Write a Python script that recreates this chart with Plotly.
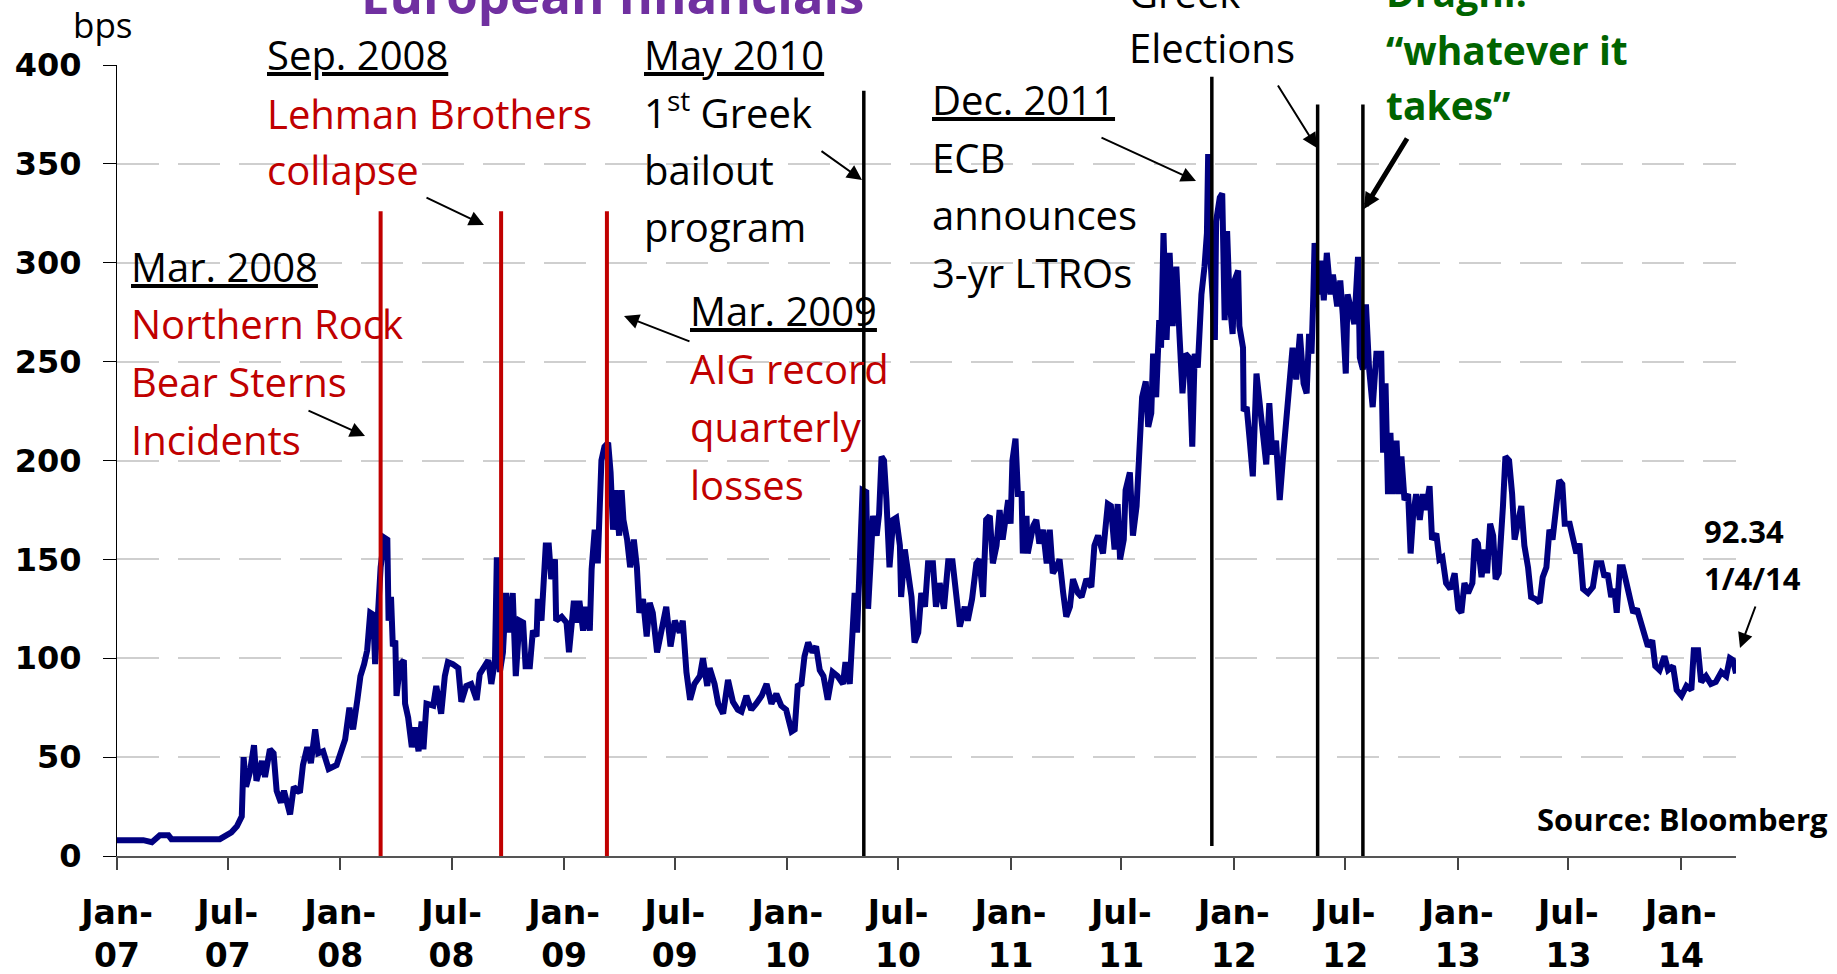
import plotly.graph_objects as go

# ---------------- data ----------------
dates = [
    "2007-01-01", "2007-02-13", "2007-02-27", "2007-03-12", "2007-03-26", "2007-03-31", "2007-06-18", "2007-06-27",
    "2007-07-07", "2007-07-16", "2007-07-24", "2007-07-27", "2007-07-31", "2007-08-06", "2007-08-13", "2007-08-17",
    "2007-08-26", "2007-08-31", "2007-09-08", "2007-09-14", "2007-09-19", "2007-09-26", "2007-10-01", "2007-10-11",
    "2007-10-17", "2007-10-27", "2007-11-01", "2007-11-08", "2007-11-14", "2007-11-21", "2007-11-26", "2007-12-04",
    "2007-12-13", "2007-12-26", "2008-01-03", "2008-01-09", "2008-01-16", "2008-01-22", "2008-01-29", "2008-02-03",
    "2008-02-09", "2008-02-14", "2008-02-19", "2008-02-24", "2008-02-27", "2008-03-02", "2008-03-07", "2008-03-13",
    "2008-03-18", "2008-03-20", "2008-03-24", "2008-03-27", "2008-03-31", "2008-04-02", "2008-04-08", "2008-04-14",
    "2008-04-16", "2008-04-21", "2008-04-27", "2008-05-02", "2008-05-08", "2008-05-13", "2008-05-16", "2008-05-21",
    "2008-06-01", "2008-06-06", "2008-06-14", "2008-06-20", "2008-06-25", "2008-07-03", "2008-07-12", "2008-07-17",
    "2008-07-25", "2008-08-02", "2008-08-11", "2008-08-16", "2008-08-24", "2008-08-30", "2008-09-04", "2008-09-10",
    "2008-09-13", "2008-09-18", "2008-09-23", "2008-09-28", "2008-10-04", "2008-10-09", "2008-10-14", "2008-10-20",
    "2008-10-26", "2008-10-30", "2008-11-06", "2008-11-11", "2008-11-17", "2008-11-19", "2008-11-25", "2008-12-02",
    "2008-12-07", "2008-12-11", "2008-12-17", "2008-12-19", "2008-12-28", "2009-01-05", "2009-01-09", "2009-01-13",
    "2009-01-17", "2009-01-21", "2009-01-26", "2009-02-01", "2009-02-06", "2009-02-12", "2009-02-15", "2009-02-20",
    "2009-02-25", "2009-03-03", "2009-03-08", "2009-03-14", "2009-03-18", "2009-03-22", "2009-03-26", "2009-04-01",
    "2009-04-05", "2009-04-08", "2009-04-14", "2009-04-19", "2009-04-25", "2009-04-30", "2009-05-04", "2009-05-10",
    "2009-05-16", "2009-05-21", "2009-05-26", "2009-06-02", "2009-06-09", "2009-06-17", "2009-06-24", "2009-07-01",
    "2009-07-09", "2009-07-14", "2009-07-20", "2009-07-26", "2009-08-02", "2009-08-11", "2009-08-16", "2009-08-23",
    "2009-08-27", "2009-09-04", "2009-09-10", "2009-09-18", "2009-09-26", "2009-10-04", "2009-10-12", "2009-10-18",
    "2009-10-26", "2009-11-03", "2009-11-11", "2009-11-20", "2009-11-28", "2009-12-06", "2009-12-14", "2009-12-22",
    "2009-12-30", "2010-01-08", "2010-01-13", "2010-01-18", "2010-01-24", "2010-01-29", "2010-02-04", "2010-02-11",
    "2010-02-17", "2010-02-23", "2010-03-01", "2010-03-08", "2010-03-16", "2010-03-24", "2010-04-02", "2010-04-06",
    "2010-04-13", "2010-04-17", "2010-04-21", "2010-04-25", "2010-04-29", "2010-05-04", "2010-05-10", "2010-05-13",
    "2010-05-17", "2010-05-21", "2010-05-27", "2010-05-31", "2010-06-04", "2010-06-08", "2010-06-12", "2010-06-17",
    "2010-06-23", "2010-06-28", "2010-07-04", "2010-07-06", "2010-07-12", "2010-07-17", "2010-07-23", "2010-07-28",
    "2010-08-03", "2010-08-08", "2010-08-14", "2010-08-19", "2010-08-27", "2010-09-01", "2010-09-07", "2010-09-14",
    "2010-09-21", "2010-09-28", "2010-10-04", "2010-10-10", "2010-10-18", "2010-10-23", "2010-10-30", "2010-11-06",
    "2010-11-11", "2010-11-17", "2010-11-22", "2010-11-28", "2010-12-03", "2010-12-09", "2010-12-14", "2010-12-19",
    "2010-12-28", "2011-01-01", "2011-01-04", "2011-01-09", "2011-01-13", "2011-01-19", "2011-01-21", "2011-01-27",
    "2011-01-29", "2011-02-07", "2011-02-12", "2011-02-17", "2011-02-23", "2011-03-01", "2011-03-06", "2011-03-11",
    "2011-03-17", "2011-03-22", "2011-03-28", "2011-04-02", "2011-04-08", "2011-04-13", "2011-04-21", "2011-04-27",
    "2011-05-05", "2011-05-13", "2011-05-18", "2011-05-24", "2011-06-01", "2011-06-05", "2011-06-09", "2011-06-14",
    "2011-06-20", "2011-06-25", "2011-06-29", "2011-07-05", "2011-07-08", "2011-07-15", "2011-07-20", "2011-07-26",
    "2011-07-30", "2011-08-04", "2011-08-10", "2011-08-14", "2011-08-19", "2011-08-22", "2011-08-27", "2011-09-01",
    "2011-09-04", "2011-09-08", "2011-09-13", "2011-09-18", "2011-09-23", "2011-09-29", "2011-10-04", "2011-10-09",
    "2011-10-14", "2011-10-20", "2011-10-25", "2011-10-29", "2011-11-03", "2011-11-09", "2011-11-14", "2011-11-18",
    "2011-11-20", "2011-11-24", "2011-12-01", "2011-12-03", "2011-12-09", "2011-12-13", "2011-12-17", "2011-12-21",
    "2011-12-25", "2011-12-30", "2012-01-02", "2012-01-08", "2012-01-10", "2012-01-16", "2012-01-17", "2012-01-22",
    "2012-01-27", "2012-02-01", "2012-02-07", "2012-02-12", "2012-02-17", "2012-02-23", "2012-02-28", "2012-03-04",
    "2012-03-10", "2012-03-16", "2012-03-21", "2012-03-27", "2012-04-01", "2012-04-06", "2012-04-12", "2012-04-18",
    "2012-04-24", "2012-04-29", "2012-05-03", "2012-05-07", "2012-05-10", "2012-05-12", "2012-05-18", "2012-05-23",
    "2012-05-27", "2012-06-01", "2012-06-07", "2012-06-11", "2012-06-18", "2012-06-23", "2012-06-27", "2012-07-02",
    "2012-07-05", "2012-07-11", "2012-07-16", "2012-07-22", "2012-07-25", "2012-07-30", "2012-08-04", "2012-08-09",
    "2012-08-15", "2012-08-21", "2012-08-29", "2012-09-01", "2012-09-05", "2012-09-09", "2012-09-13", "2012-09-17",
    "2012-09-23", "2012-09-27", "2012-10-01", "2012-10-06", "2012-10-12", "2012-10-16", "2012-10-20", "2012-10-25",
    "2012-10-31", "2012-11-05", "2012-11-10", "2012-11-16", "2012-11-20", "2012-11-27", "2012-12-02", "2012-12-07",
    "2012-12-13", "2012-12-20", "2012-12-27", "2013-01-02", "2013-01-07", "2013-01-12", "2013-01-18", "2013-01-25",
    "2013-01-29", "2013-02-03", "2013-02-09", "2013-02-14", "2013-02-18", "2013-02-23", "2013-02-28", "2013-03-04",
    "2013-03-09", "2013-03-16", "2013-03-20", "2013-03-26", "2013-03-31", "2013-04-04", "2013-04-09", "2013-04-15",
    "2013-04-20", "2013-04-26", "2013-05-01", "2013-05-08", "2013-05-15", "2013-05-20", "2013-05-26", "2013-05-31",
    "2013-06-05", "2013-06-11", "2013-06-16", "2013-06-21", "2013-06-25", "2013-07-03", "2013-07-08", "2013-07-14",
    "2013-07-19", "2013-07-25", "2013-08-02", "2013-08-10", "2013-08-16", "2013-08-24", "2013-08-29", "2013-09-03",
    "2013-09-09", "2013-09-14", "2013-09-18", "2013-09-23", "2013-09-28", "2013-10-04", "2013-10-09", "2013-10-15",
    "2013-10-21", "2013-10-28", "2013-11-03", "2013-11-08", "2013-11-15", "2013-11-20", "2013-11-27", "2013-12-05",
    "2013-12-11", "2013-12-19", "2013-12-25", "2014-01-02", "2014-01-10", "2014-01-18", "2014-01-22", "2014-01-29",
    "2014-02-03", "2014-02-11", "2014-02-19", "2014-02-27", "2014-03-08", "2014-03-16", "2014-03-22", "2014-03-27",
    "2014-04-01",
]

spread_bps = [
    8, 8, 7, 10.5, 10.5, 8.5, 8.5, 10.5,
    12, 15, 20, 50, 35, 42, 56, 38,
    48, 40, 54, 52, 33, 27, 33, 21,
    35, 32, 46, 55, 47, 64, 52, 53,
    44, 46, 53, 59, 75, 64, 79, 91,
    97, 104, 123, 122, 97, 124, 146, 161,
    160, 119, 131, 106, 109, 81, 97, 99,
    77, 70, 55, 65, 53, 68, 54, 77,
    76, 86, 72, 91, 98, 97, 95, 78,
    86, 87, 79, 92, 96, 99, 87, 99,
    151, 93, 103, 133, 113, 133, 91, 119,
    118, 96, 96, 114, 111, 130, 119, 157,
    157, 140, 150, 119, 121, 118, 103, 113,
    129, 118, 129, 114, 126, 114, 145, 165,
    148, 200, 207, 209, 194, 165, 185, 162,
    185, 170, 160, 146, 160, 146, 123, 130,
    111, 128, 123, 103, 113, 126, 106, 119,
    113, 119, 93, 79, 87, 91, 100, 86,
    95, 87, 77, 72, 89, 78, 74, 73,
    81, 74, 77, 81, 87, 77, 82, 76,
    74, 63, 64, 86, 87, 101, 108, 103,
    106, 94, 91, 79, 93, 91, 87, 98,
    87, 111, 133, 113, 140, 185, 184, 125,
    148, 172, 162, 173, 202, 200, 180, 146,
    170, 171, 157, 131, 155, 143, 131, 108,
    113, 133, 126, 148, 148, 126, 138, 125,
    149, 149, 133, 116, 126, 119, 130, 148,
    150, 131, 170, 172, 148, 157, 175, 160,
    180, 168, 200, 211, 183, 183, 153, 172,
    153, 167, 170, 158, 165, 148, 165, 143,
    146, 150, 133, 121, 126, 140, 133, 131,
    140, 136, 157, 162, 153, 165, 178, 177,
    155, 178, 150, 160, 185, 194, 162, 177,
    210, 232, 240, 217, 224, 254, 232, 271,
    257, 315, 261, 305, 268, 298, 264, 234,
    254, 252, 207, 254, 247, 284, 298, 315,
    355, 301, 261, 321, 333, 335, 271, 316,
    281, 264, 291, 296, 268, 257, 225, 227,
    210, 192, 244, 230, 212, 198, 229, 203,
    210, 180, 200, 220, 236, 257, 241, 264,
    239, 234, 264, 254, 284, 310, 284, 301,
    281, 305, 284, 294, 278, 291, 274, 244,
    284, 274, 269, 303, 252, 246, 279, 247,
    227, 254, 254, 204, 239, 183, 214, 183,
    210, 183, 202, 180, 183, 153, 172, 183,
    170, 183, 175, 187, 160, 163, 150, 151,
    138, 135, 143, 125, 123, 138, 133, 138,
    160, 158, 141, 155, 143, 168, 162, 140,
    143, 177, 202, 200, 183, 160, 168, 177,
    157, 146, 131, 130, 128, 141, 146, 165,
    160, 180, 190, 188, 168, 168, 160, 153,
    158, 135, 133, 136, 148, 148, 141, 143,
    131, 135, 123, 146, 146, 138, 128, 123,
    125, 118, 111, 106, 109, 96, 94, 101,
    94, 96, 84, 81, 86, 84, 104, 104,
    88, 91, 87, 88, 93, 91, 100, 99,
    92.34,
]

tick_dates = ["2007-01-01", "2007-07-01", "2008-01-01", "2008-07-01", "2009-01-01",
              "2009-07-01", "2010-01-01", "2010-07-01", "2011-01-01", "2011-07-01",
              "2012-01-01", "2012-07-01", "2013-01-01", "2013-07-01", "2014-01-01"]
tick_text = ["Jan-<br>07", "Jul-<br>07", "Jan-<br>08", "Jul-<br>08", "Jan-<br>09",
             "Jul-<br>09", "Jan-<br>10", "Jul-<br>10", "Jan-<br>11", "Jul-<br>11",
             "Jan-<br>12", "Jul-<br>12", "Jan-<br>13", "Jul-<br>13", "Jan-<br>14"]
y_ticks = [0, 50, 100, 150, 200, 250, 300, 350, 400]

red_event_dates = ["2008-03-07", "2008-09-20", "2009-03-12"]
red_event_top = [326, 326, 326]
black_event_dates = ["2010-05-06", "2011-11-26", "2012-05-17", "2012-07-30"]
black_event_bottom = [0, 5, 0, 0]
black_event_top = [387, 394, 380, 380]

last_value_label = "92.34"
last_date_label = "1/4/14"

# ---------------- styling / layout helpers ----------------
W, H = 1837, 974
PL, PR, PT, PB = 117, 1736, 65, 856   # plot-area box in page pixels


def fx(px):
    return (px - PL) / (PR - PL)


def fy(py):
    return (PB - py) / (PB - PT)


NAVY = "#000080"
RED = "#C00000"
BLACK = "#000000"
GREEN = "#006400"
PURPLE = "#7030A0"
TXT_FONT = "Open Sans"

fig = go.Figure()
fig.add_trace(go.Scatter(x=dates, y=spread_bps, mode="lines",
                         line=dict(color=NAVY, width=6), hoverinfo="x+y"))

shapes = []
for d, top in zip(red_event_dates, red_event_top):
    shapes.append(dict(type="line", xref="x", yref="y", x0=d, x1=d, y0=0, y1=top,
                       line=dict(color=RED, width=4)))
for d, lo, top in zip(black_event_dates, black_event_bottom, black_event_top):
    shapes.append(dict(type="line", xref="x", yref="y", x0=d, x1=d, y0=lo, y1=top,
                       line=dict(color=BLACK, width=3.5)))

annotations = []


def add_text(px, py, text, color=BLACK, size=40, bold=False, xanchor="left", family=TXT_FONT):
    annotations.append(dict(
        xref="paper", yref="paper", x=fx(px), y=fy(py), text=text, showarrow=False,
        xanchor=xanchor, yanchor="middle", align="left",
        font=dict(family=family, size=size, color=color, weight="bold" if bold else "normal")))


blocks = [
    (265, [(55, "<u>Sep. 2008</u>", BLACK), (114, "Lehman Brothers", RED), (169, "collapse", RED)]),
    (642, [(55, "<u>May 2010</u>", BLACK), (111, "1<sup>st</sup> Greek", BLACK),
           (169, "bailout", BLACK), (226, "program", BLACK)]),
    (129, [(266, "<u>Mar. 2008</u>", BLACK), (323, "Northern Rock", RED),
           (381, "Bear Sterns", RED), (439, "Incidents", RED)]),
    (688, [(310, "<u>Mar. 2009</u>", BLACK), (369, "AIG record", RED),
           (426, "quarterly", RED), (484, "losses", RED)]),
    (930, [(100, "<u>Dec. 2011</u>", BLACK), (157, "ECB", BLACK),
           (214, "announces", BLACK), (272, "3-yr LTROs", BLACK)]),
    (1127, [(-8, "Greek", BLACK), (48, "Elections", BLACK)]),
]
for left, lines in blocks:
    for py, txt, col in lines:
        add_text(left, py, txt, col)

for py, txt in [(-9, "Draghi:"), (49, "\u201cwhatever it"), (105, "takes\u201d")]:
    add_text(1384, py, txt, GREEN, size=39, bold=True)

add_text(612, -6, "European financials", PURPLE, size=51, bold=True, xanchor="center")
add_text(103, 24, "bps", BLACK, size=35, xanchor="center")
add_text(1702, 531, last_value_label, BLACK, size=31, bold=True)
add_text(1702, 578, last_date_label, BLACK, size=31, bold=True)
add_text(1535, 819, "Source: Bloomberg", BLACK, size=31, bold=True)

arrows = [
    (307, 410, 365, 436, 2),
    (425, 197, 484, 225, 2),
    (691, 342, 624, 316, 2),
    (820, 150, 862, 180, 2),
    (1100, 137, 1196, 181, 2),
    (1277, 84, 1317, 148, 2),
    (1408, 137, 1364, 209, 5),
    (1756, 605, 1740, 648, 2),
]
for tx, ty, hx, hy, w in arrows:
    annotations.append(dict(
        xref="paper", yref="paper", x=fx(hx), y=fy(hy), ax=tx - hx, ay=ty - hy,
        text="", showarrow=True, arrowhead=2, arrowsize=1.5 if w < 4 else 0.65,
        arrowwidth=w, arrowcolor=BLACK, standoff=0))

fig.update_layout(
    width=W, height=H,
    margin=dict(l=PL, r=W - PR, t=PT, b=H - PB, pad=0, autoexpand=False),
    paper_bgcolor="white", plot_bgcolor="white",
    showlegend=False,
    shapes=shapes,
    annotations=annotations,
    xaxis=dict(
        type="date", range=["2007-01-01", "2014-04-01"], automargin=False,
        tickmode="array", tickvals=tick_dates, ticktext=tick_text,
        ticks="outside", ticklen=12, tickwidth=1.5, tickcolor="#444444",
        showline=True, linecolor="#555555", linewidth=2,
        showgrid=False, zeroline=False,
        tickfont=dict(family="DejaVu Sans", size=33, color="black", weight="bold"),
        ticklabelstandoff=14,
    ),
    yaxis=dict(
        range=[0, 400], tickmode="array", tickvals=y_ticks, automargin=False,
        ticks="outside", ticklen=13, tickwidth=1, tickcolor="black",
        showline=True, linecolor="black", linewidth=1,
        showgrid=True, gridcolor="#cfcfcf", gridwidth=1.5, griddash="42px,19px",
        zeroline=False,
        tickfont=dict(family="DejaVu Sans", size=32, color="black", weight="bold"),
        ticklabelstandoff=15,
    ),
)

fig.write_html("out.html", config={"displayModeBar": False},
               post_script="document.body.style.margin='0';")
